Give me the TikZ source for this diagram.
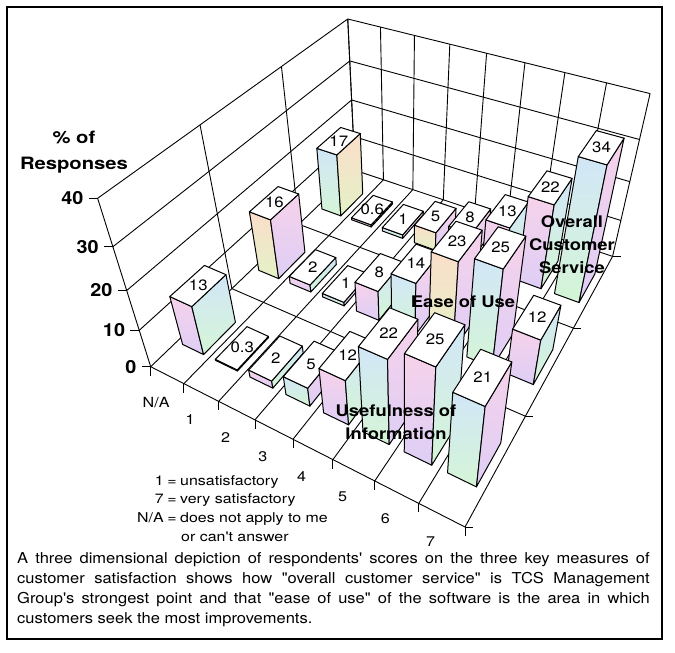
\documentclass[tikz,border=0pt]{standalone}
\usepackage{fontspec}
\setmainfont{TeX Gyre Heros}
\usetikzlibrary{calc}
\definecolor{pinkA}{RGB}{246,210,234}
\definecolor{lavA}{RGB}{222,206,246}
\definecolor{blueB}{RGB}{210,230,247}
\definecolor{greenB}{RGB}{212,245,214}
\definecolor{peachC}{RGB}{250,222,202}
\definecolor{ygC}{RGB}{228,242,198}
% perspective projection of (x = category, y = row depth, z = percent)
\newcommand\mkpt[4]{%
  \pgfmathsetmacro\mkw{1+(#2)*(-0.021584)+(#3)*0.1064+(#4)*(-0.004346)}%
  \pgfmathsetmacro\mkx{(150.7+(#2)*29.25+(#3)*105.87+(#4)*(-1.7514))/\mkw}%
  \pgfmathsetmacro\mky{(366.7+(#2)*8.66+(#3)*(-47.36)+(#4)*(-5.0718))/\mkw}%
  \coordinate (#1) at (\mkx,\mky);%
}
\newcommand\mybar[7]{%
  \pgfmathsetmacro\bxa{#2+0.18}\pgfmathsetmacro\bxb{#2+0.82}%
  \pgfmathsetmacro\bya{#3+0.3}\pgfmathsetmacro\byb{#3+0.7}%
  \pgfmathsetmacro\bxm{#2+0.5}\pgfmathsetmacro\bym{#3+0.5}%
  \mkpt{#1A}{\bxa}{\bya}{0}\mkpt{#1B}{\bxb}{\bya}{0}\mkpt{#1C}{\bxb}{\byb}{0}%
  \mkpt{#1D}{\bxa}{\bya}{#4}\mkpt{#1E}{\bxb}{\bya}{#4}%
  \mkpt{#1F}{\bxb}{\byb}{#4}\mkpt{#1G}{\bxa}{\byb}{#4}%
  \mkpt{#1M}{\bxm}{\bym}{#4}%
  \draw[barline,#6] (#1A) -- (#1B) -- (#1E) -- (#1D) -- cycle;
  \draw[barline,#7] (#1B) -- (#1C) -- (#1F) -- (#1E) -- cycle;
  \draw[barline,fill=white] (#1D) -- (#1E) -- (#1F) -- (#1G) -- cycle;
  \node[barlbl] (#1L) at (#1M) {#5};
}
\begin{document}
\begin{tikzpicture}[x=1pt,y=-1pt,
  gridline/.style={line width=0.9pt,black},
  barline/.style={line width=1pt,black,line join=round},
  fa/.style={top color=pinkA,bottom color=lavA},
  fb/.style={top color=blueB,bottom color=greenB},
  fc/.style={top color=peachC,bottom color=ygC},
  barlbl/.style={font=\fontsize{15}{15}\selectfont,xscale=1.12,inner sep=0pt},
  axlbl/.style={font=\bfseries\fontsize{18}{18}\selectfont,xscale=1.1,inner sep=0pt,anchor=east},
  catlbl/.style={font=\fontsize{14}{14}\selectfont,xscale=1.15,inner sep=0pt},
  rowlbl/.style={font=\bfseries\fontsize{16}{23}\selectfont,xscale=1.15,align=center,inner sep=0pt},
  titlbl/.style={font=\bfseries\fontsize{17}{26}\selectfont,xscale=1.19,align=center,inner sep=0pt},
  leglbl/.style={font=\fontsize{13.5}{13.5}\selectfont,xscale=1.18,inner sep=0pt},
  captxt/.style={font=\fontsize{15}{20}\selectfont,xscale=1.1,inner sep=0pt}]
\useasboundingbox (0,0) rectangle (675,653);
\fill[white] (0,0) rectangle (675,653);
% back wall
\foreach \i in {0,...,8}{\mkpt{gp}{\i}{3}{0}\mkpt{gq}{\i}{3}{40}\draw[gridline] (gp) -- (gq);}
\foreach \k in {10,20,30,40}{\mkpt{gp}{0}{3}{\k}\mkpt{gq}{8}{3}{\k}\draw[gridline] (gp) -- (gq);}
% left wall
\foreach \j in {0,...,3}{\mkpt{gp}{0}{\j}{0}\mkpt{gq}{0}{\j}{40}\draw[gridline] (gp) -- (gq);}
\foreach \k in {10,20,30,40}{\mkpt{gp}{0}{0}{\k}\mkpt{gq}{0}{3}{\k}\draw[gridline] (gp) -- (gq);}
% floor
\foreach \j in {0,...,3}{\mkpt{gp}{0}{\j}{0}\mkpt{gq}{8}{\j}{0}\draw[gridline] (gp) -- (gq);}
\foreach \i in {0,...,8}{\mkpt{gp}{\i}{0}{0}\mkpt{gq}{\i}{3}{0}\draw[gridline] (gp) -- (gq);}
% ticks
\foreach \i in {0,...,8}{\mkpt{gp}{\i}{0}{0}\draw[gridline] (gp) -- ++(0,9);}
\foreach \j in {0,...,3}{\mkpt{gp}{8}{\j}{0}\draw[gridline] (gp) -- ++(8,0);}
\foreach \k in {0,10,20,30,40}{\mkpt{gp}{0}{0}{\k}\draw[gridline] (gp) -- ++(-9,0);
  \node[axlbl] (ax\k) at ($(gp)+(-14,0)$) {\k};}
% category labels
\mkpt{c0}{0.5}{0}{0}\node[catlbl] (cat0) at ($(c0)+(-11,27)$) {N/A};
\mkpt{c1}{1.5}{0}{0}\node[catlbl] (cat1) at ($(c1)+(-11,27)$) {1};
\mkpt{c2}{2.5}{0}{0}\node[catlbl] (cat2) at ($(c2)+(-11,27)$) {2};
\mkpt{c3}{3.5}{0}{0}\node[catlbl] (cat3) at ($(c3)+(-11,27)$) {3};
\mkpt{c4}{4.5}{0}{0}\node[catlbl] (cat4) at ($(c4)+(-11,27)$) {4};
\mkpt{c5}{5.5}{0}{0}\node[catlbl] (cat5) at ($(c5)+(-11,27)$) {5};
\mkpt{c6}{6.5}{0}{0}\node[catlbl] (cat6) at ($(c6)+(-11,27)$) {6};
\mkpt{c7}{7.5}{0}{0}\node[catlbl] (cat7) at ($(c7)+(-11,27)$) {7};
% bars: Overall Customer Service (back row)
\mybar{o0}{0}{2}{17}{17}{fb}{fc}
\mybar{o1}{1}{2}{0.6}{0.6}{fa}{fb}
\mybar{o2}{2}{2}{1}{1}{fb}{fa}
\mybar{o3}{3}{2}{5}{5}{fc}{fa}
\mybar{o4}{4}{2}{8}{8}{fb}{fa}
\mybar{o5}{5}{2}{13}{13}{fa}{fb}
\mybar{o6}{6}{2}{22}{22}{fa}{fb}
\mybar{o7}{7}{2}{34}{34}{fb}{fa}
% Ease of Use (middle row)
\mybar{e0}{0}{1}{16}{16}{fc}{fa}
\mybar{e1}{1}{1}{2}{2}{fa}{fb}
\mybar{e2}{2}{1}{1}{1}{fb}{fa}
\mybar{e3}{3}{1}{8}{8}{fa}{fb}
\mybar{e4}{4}{1}{14}{14}{fb}{fa}
\mybar{e5}{5}{1}{23}{23}{fc}{fa}
\mybar{e6}{6}{1}{25}{25}{fb}{fa}
\mybar{e7}{7}{1}{12}{12}{fa}{fb}
% Usefulness of Information (front row)
\mybar{u0}{0}{0}{13}{13}{fa}{fb}
\mybar{u1}{1}{0}{0.3}{0.3}{fa}{fb}
\mybar{u2}{2}{0}{2}{2}{fa}{fb}
\mybar{u3}{3}{0}{5}{5}{fb}{fa}
\mybar{u4}{4}{0}{12}{12}{fa}{fb}
\mybar{u5}{5}{0}{22}{22}{fb}{fa}
\mybar{u6}{6}{0}{25}{25}{fa}{fb}
\mybar{u7}{7}{0}{21}{21}{fb}{fa}
% labels
\node[titlbl] (title) at (74,152) {\% of\\Responses};
\node[rowlbl] (rowO) at (572,245) {Overall\\Customer\\Service};
\node[rowlbl] (rowE) at (463,302) {Ease of Use};
\node[rowlbl] (rowU) at (396,422) {Usefulness of\\Information};
% legend
\node[leglbl,anchor=base east] (l1a) at (164,485) {1};
\node[leglbl,anchor=base] (l1b) at (172,485) {=};
\node[leglbl,anchor=base west] (l1c) at (180,485) {unsatisfactory};
\node[leglbl,anchor=base east] (l2a) at (164,503) {7};
\node[leglbl,anchor=base] (l2b) at (172,503) {=};
\node[leglbl,anchor=base west] (l2c) at (180,503) {very satisfactory};
\node[leglbl,anchor=base east] (l3a) at (164,522) {N/A};
\node[leglbl,anchor=base] (l3b) at (172,522) {=};
\node[leglbl,anchor=base west] (l3c) at (180,522) {does not apply to me};
\node[leglbl,anchor=base west] (l4c) at (181,541) {or can\textquotesingle t answer};
% caption
\node[captxt,anchor=base west] (cap) at (17,563) {\parbox[t]{575pt}{\hyphenpenalty=10000\relax
A three dimensional depiction of respondents\textquotesingle\ scores on the three key measures of\linebreak
customer satisfaction shows how \textquotedbl overall customer service\textquotedbl\ is TCS Management\linebreak
Group\textquotesingle s strongest point and that \textquotedbl ease of use\textquotedbl\ of the software is the area in which\linebreak
customers seek the most improvements.}};
% frame
\draw[line width=1.6pt] (7,7) rectangle (662,639);
\end{tikzpicture}
\end{document}
